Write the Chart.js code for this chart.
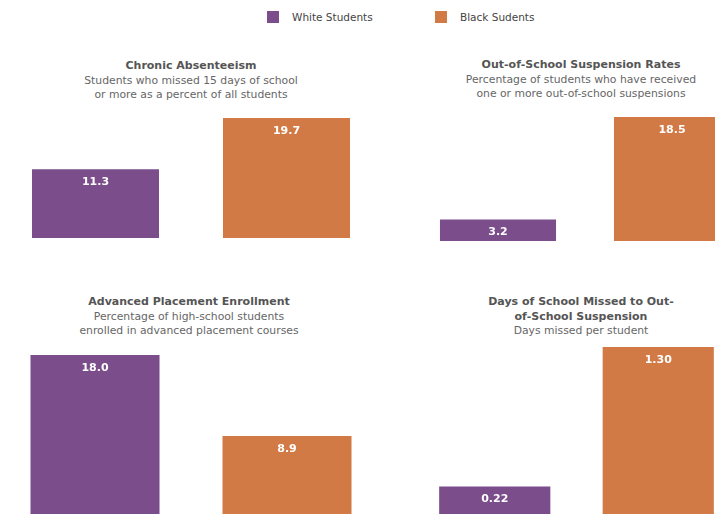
<!DOCTYPE html>
<html>
<head>
<meta charset="utf-8">
<script src="https://cdn.jsdelivr.net/npm/chart.js@4/dist/chart.umd.min.js"></script>
<style>
  html, body { margin: 0; padding: 0; width: 715px; height: 514px; overflow: hidden; background: #fff; }
  body { position: relative; font-family: "DejaVu Sans", sans-serif; }
  .legend { position: absolute; top: 11px; font-size: 10.5px; color: #444; line-height: 12px; }
  .legend span.box { position: absolute; top: 0; width: 12px; height: 12px; }
  .legend span.txt { position: absolute; top: 0; white-space: nowrap; }
  .head { position: absolute; width: 360px; text-align: center; line-height: 14.5px; }
  .head .t { font-weight: bold; font-size: 11px; color: #555; white-space: pre-line; }
  .head .s { font-size: 10.8px; color: #666; white-space: pre-line; }
  canvas { position: absolute; }
</style>
</head>
<body>
<div id="legend"></div>
<script>
// series / categories
const groups = ["White Students", "Black Sudents"];
const groupColors = ["#7b4d8a", "#d27a45"];

// one small array per panel (white, black)
const chronicAbsenteeism = [11.3, 19.7];
const suspensionRates = [3.2, 18.5];
const apEnrollment = [18.0, 8.9];
const daysMissed = [0.22, 1.30];

const panelTitles = [
  "Chronic Absenteeism",
  "Out-of-School Suspension Rates",
  "Advanced Placement Enrollment",
  "Days of School Missed to Out-\nof-School Suspension"
];
const panelSubtitles = [
  "Students who missed 15 days of school\nor more as a percent of all students",
  "Percentage of students who have received\none or more out-of-school suspensions",
  "Percentage of high-school students\nenrolled in advanced placement courses",
  "Days missed per student"
];
const panelDecimals = [1, 1, 1, 2];

// where each panel sits on the page
const panels = [
  { values: chronicAbsenteeism, headX: 191, headY: 59,  left: 0,   top: 118, width: 382, height: 120, bar: 0.665 },
  { values: suspensionRates,    headX: 581, headY: 58,  left: 411, top: 117, width: 348, height: 124, bar: 0.667 },
  { values: apEnrollment,       headX: 189, headY: 295, left: -1,  top: 355, width: 384, height: 160, bar: 0.672 },
  { values: daysMissed,         headX: 581, headY: 295, left: 413, top: 347, width: 327, height: 168, bar: 0.68 }
];

// legend
const legend = document.getElementById("legend");
const legendX = [267, 435];
groups.forEach((g, i) => {
  const d = document.createElement("div");
  d.className = "legend";
  d.style.left = legendX[i] + "px";
  d.innerHTML = '<span class="box" style="background:' + groupColors[i] + '"></span>' +
    '<span class="txt" style="left:25px">' + g + '</span>';
  legend.appendChild(d);
});

// white value labels inside the top of each bar
const valueLabels = {
  id: "valueLabels",
  afterDatasetsDraw(chart, args, opts) {
    const ctx = chart.ctx;
    const meta = chart.getDatasetMeta(0);
    ctx.save();
    ctx.fillStyle = "#fff";
    ctx.font = "bold 11px 'DejaVu Sans'";
    ctx.textAlign = "center";
    ctx.textBaseline = "middle";
    meta.data.forEach((bar, i) => {
      const v = chart.data.datasets[0].data[i];
      ctx.fillText(v.toFixed(opts.decimals), bar.x, bar.y + 13);
    });
    ctx.restore();
  }
};

panels.forEach((p, k) => {
  const head = document.createElement("div");
  head.className = "head";
  head.style.left = (p.headX - 180) + "px";
  head.style.top = p.headY + "px";
  head.innerHTML = '<div class="t">' + panelTitles[k] + '</div><div class="s">' + panelSubtitles[k] + '</div>';
  document.body.appendChild(head);

  const canvas = document.createElement("canvas");
  canvas.width = p.width;
  canvas.height = p.height;
  canvas.style.left = p.left + "px";
  canvas.style.top = p.top + "px";
  document.body.appendChild(canvas);

  new Chart(canvas.getContext("2d"), {
    type: "bar",
    data: {
      labels: groups,
      datasets: [
        {
          data: p.values,
          backgroundColor: groupColors,
          borderWidth: 0,
          categoryPercentage: 1,
          barPercentage: p.bar,
        },
      ],
    },
    options: {
      responsive: false,
      animation: false,
      layout: { padding: 0 },
      scales: {
        x: { display: false },
        y: { display: false, min: 0, max: Math.max(...p.values) },
      },
      plugins: {
        legend: { display: false },
        tooltip: { enabled: false },
        valueLabels: { decimals: panelDecimals[k] },
      },
    },
    plugins: [valueLabels],
  });
});
</script>
</body>
</html>
